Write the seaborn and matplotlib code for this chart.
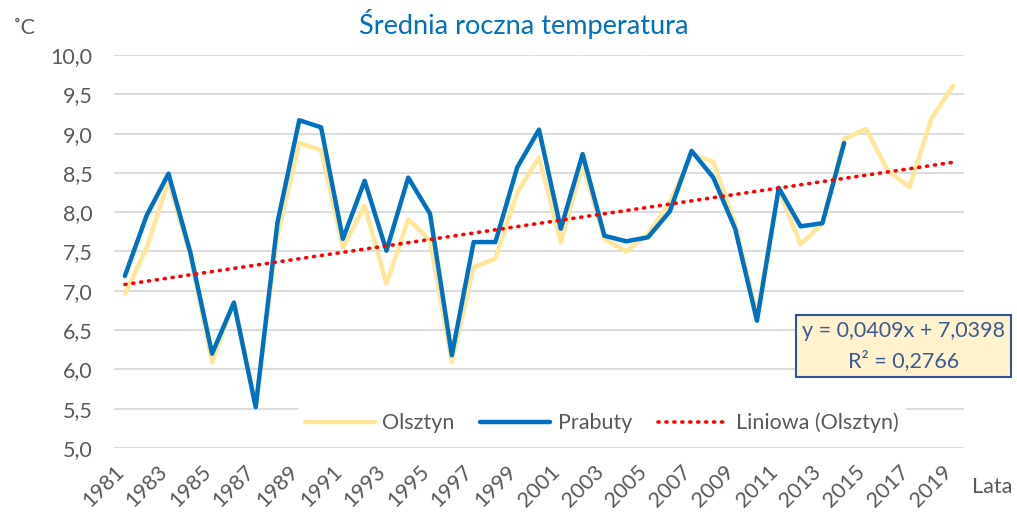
import matplotlib
matplotlib.use("Agg")
import matplotlib.pyplot as plt
import matplotlib.ticker as mticker
import matplotlib.transforms as mtransforms
import numpy as np
import pandas as pd
import seaborn as sns

# Data
years = list(range(1981, 2020))
olsztyn = [6.96, 7.55, 8.40, 7.45, 6.09, 6.85, 5.55, 7.70, 8.88, 8.79,
           7.55, 8.08, 7.09, 7.91, 7.64, 6.09, 7.30, 7.41, 8.25, 8.70,
           7.62, 8.61, 7.66, 7.50, 7.72, 8.13, 8.74, 8.64, 7.85, 6.70,
           8.28, 7.59, 7.85, 8.93, 9.06, 8.53, 8.32, 9.19, 9.61]
prabuty = [7.19, 7.96, 8.49, 7.49, 6.20, 6.85, 5.52, 7.87, 9.17, 9.08,
           7.66, 8.40, 7.51, 8.44, 7.98, 6.18, 7.62, 7.62, 8.57, 9.05,
           7.79, 8.74, 7.70, 7.63, 7.68, 8.01, 8.78, 8.44, 7.79, 6.62,
           8.31, 7.82, 7.86, 8.88]
trend_slope = 0.0409
trend_intercept = 7.0398
r_squared = 0.2766

title = "Średnia roczna temperatura"
series_names = ["Olsztyn", "Prabuty", "Liniowa (Olsztyn)"]

df = pd.DataFrame({"year": years, "Olsztyn": olsztyn})
df["Prabuty"] = pd.Series(prabuty + [np.nan] * (len(years) - len(prabuty)))
df["trend"] = trend_slope * (df["year"] - years[0] + 1) + trend_intercept

sns.set_style("white")
plt.rcParams["font.family"] = ["Lato", "DejaVu Sans"]
fs = 15.5
grey = "#595959"

fig = plt.figure(figsize=(10.17, 5.13), dpi=100)
ax = fig.add_axes([0.1121, 0.1267, 0.8358, 0.7661])

sns.lineplot(data=df, x="year", y="Olsztyn", ax=ax, color="#FFE699",
             linewidth=3.2, label=series_names[0])
sns.lineplot(data=df.dropna(), x="year", y="Prabuty", ax=ax, color="#0070C0",
             linewidth=3.2, label=series_names[1])
sns.lineplot(data=df, x="year", y="trend", ax=ax, color="#FF0000",
             linewidth=2.6, linestyle=(0, (0.3, 1.9)), dash_capstyle="round",
             label=series_names[2])

ax.set_xlim(years[0] - 0.5, years[-1] + 0.5)
ax.set_ylim(5.0, 10.0)
ax.yaxis.set_major_locator(mticker.MultipleLocator(0.5))
ax.yaxis.set_major_formatter(
    mticker.FuncFormatter(lambda v, p: f"{v:.1f}".replace(".", ",")))
ax.set_xticks(years[::2])
ax.set_xticklabels([str(y) for y in years[::2]], rotation=45, ha="right",
                   va="center", rotation_mode="anchor")
ax.tick_params(axis="both", length=0, labelsize=fs, labelcolor=grey)
ax.tick_params(axis="x", pad=15)
ax.tick_params(axis="y", pad=15.5)
shift = mtransforms.ScaledTranslation(-4 / 100, 0, fig.dpi_scale_trans)
for lab in ax.get_xticklabels():
    lab.set_transform(lab.get_transform() + shift)
ax.grid(axis="y", color="#D9D9D9", linewidth=1.3)
ax.set_axisbelow(True)
for s in ax.spines.values():
    s.set_visible(False)
ax.set_xlabel("")
ax.set_ylabel("")

leg = ax.legend(loc="center", bbox_to_anchor=(0.5735, 0.0636), ncol=3,
                frameon=True, fontsize=fs, handlelength=3.25,
                columnspacing=1.2, handletextpad=0.35, borderpad=0.3)
leg.get_frame().set_facecolor("white")
leg.get_frame().set_edgecolor("white")
leg.get_frame().set_alpha(1)
for t in leg.get_texts():
    t.set_color(grey)

fig.text(524 / 1017, 1 - 24 / 513, title, ha="center", va="center",
         fontsize=19.5, color="#0070C0")
fig.text(13 / 1017, 1 - 28 / 513, "˚C", ha="left", va="center", fontsize=fs,
         color=grey)
fig.text(972 / 1017, 1 - 487 / 513, "Lata", ha="left", va="center",
         fontsize=fs, color=grey)

eq = (f"y = {trend_slope:.4f}x + {trend_intercept:.4f}".replace(".", ",")
      + "\n" + f"R² = {r_squared:.4f}".replace(".", ","))
fig.text(903.5 / 1017, 1 - 346 / 513, eq, ha="center", va="center",
         fontsize=15.5, color="#3A5B95", multialignment="center",
         linespacing=1.5,
         bbox=dict(boxstyle="square,pad=0.3", facecolor="#FFF2CC",
                   edgecolor="#2F5597", linewidth=1.5))

fig.savefig("out.png", dpi=100)
